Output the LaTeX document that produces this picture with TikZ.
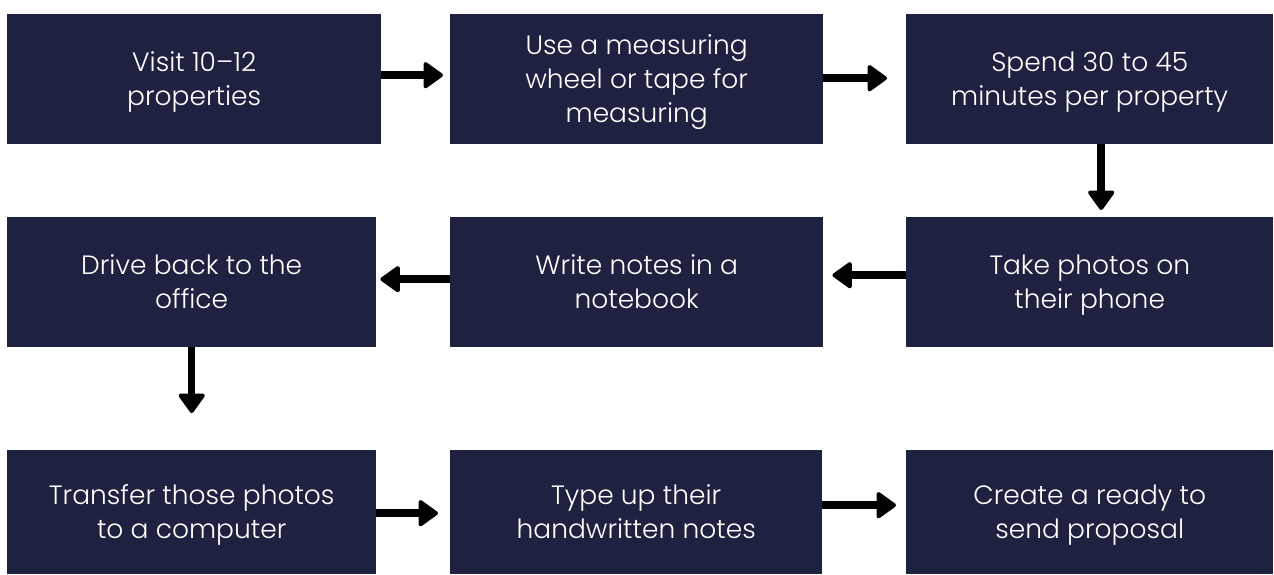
\documentclass[tikz,border=0pt]{standalone}
\usepackage{fontspec}
\setmainfont{Poppins}[UprightFont={* Light}]
\usetikzlibrary{arrows.meta}
\definecolor{navy}{RGB}{30,33,63}
% centred block of lines; the strut in the first row lowers the block a little
\newcommand{\steplines}[1]{\begin{tabular}{@{}c@{}}\rule{0pt}{28.8pt}#1\end{tabular}}
\begin{document}
\begin{tikzpicture}[x=1pt,y=-1pt,
  stepbox/.style={rectangle, fill=navy, text=white, anchor=north west,
    minimum height=130pt, inner sep=0pt,
    font=\fontsize{26.5}{34}\selectfont},
  lastrow/.style={minimum height=124pt},
  flow/.style={line width=7.5pt, draw=black,
    -{Triangle[length=21pt,width=29pt,round,line width=4pt]}}]
\useasboundingbox (0,0) rectangle (1274,574);
\clip (0,0) rectangle (1274,574);

% first row
\node[stepbox, minimum width=374pt] (b1) at (7,14) {\steplines{Visit 10--12\\properties}};
\node[stepbox, minimum width=373pt] (b2) at (450,14) {\steplines{Use a measuring\\wheel or tape for\\measuring}};
\node[stepbox, minimum width=367pt] (b3) at (906,14) {\steplines{Spend 30 to 45\\minutes per property}};

% second row
\node[stepbox, minimum width=369pt] (b4) at (7,217) {\steplines{Drive back to the\\office}};
\node[stepbox, minimum width=373pt] (b5) at (450,217) {\steplines{Write notes in a\\notebook}};
\node[stepbox, minimum width=367pt] (b6) at (906,217) {\steplines{Take photos on\\their phone}};

% third row, running to the lower edge
\node[stepbox, lastrow, minimum width=369pt] (b7) at (7,450) {\steplines{Transfer those photos\\to a computer}};
\node[stepbox, lastrow, minimum width=372pt] (b8) at (450,450) {\steplines{Type up their\\handwritten notes}};
\node[stepbox, lastrow, minimum width=367pt] (b9) at (906,450) {\steplines{Create a ready to\\send proposal}};

% connectors
\draw[flow, shorten >=7pt] ([yshift=4pt]b1.east) -- ([yshift=4pt]b2.west);
\draw[flow, shorten >=19pt] ([yshift=1pt]b2.east) -- ([yshift=1pt]b3.west);
\draw[flow, shorten >=7pt] ([xshift=11.5pt]b3.south) -- ([xshift=11.5pt]b6.north);
\draw[flow, shorten >=9pt] ([yshift=7pt]b6.west) -- ([yshift=7pt]b5.east);
\draw[flow, shorten >=4pt] ([yshift=3pt]b5.west) -- ([yshift=3pt]b4.east);
\draw[flow, shorten >=37pt] (b4.south) -- (b7.north);
\draw[flow, shorten >=12pt] ([yshift=-1pt]b7.east) -- ([yshift=-1pt]b8.west);
\draw[flow, shorten >=10pt] ([yshift=7pt]b8.east) -- ([yshift=7pt]b9.west);
\end{tikzpicture}
\end{document}
